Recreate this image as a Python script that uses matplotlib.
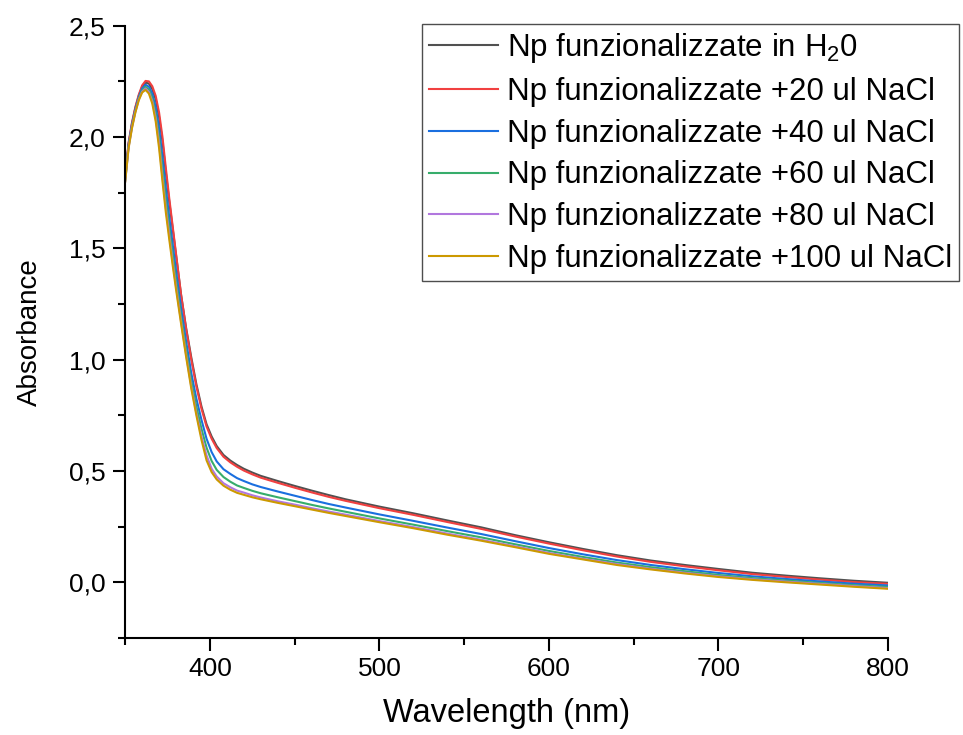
import matplotlib
matplotlib.use("Agg")
import matplotlib.pyplot as plt
from matplotlib.ticker import MultipleLocator, FuncFormatter

plt.rcParams['font.family'] = ['Liberation Sans', 'DejaVu Sans']
plt.rcParams['mathtext.fontset'] = 'custom'
plt.rcParams['mathtext.rm'] = 'Liberation Sans'
plt.rcParams['mathtext.it'] = 'Liberation Sans:italic'

wavelength = [350, 352, 354, 356, 358, 360, 362, 364, 366, 368, 370, 372, 374, 376, 378,
              380, 383, 386, 389, 392, 395, 398, 401, 404, 408, 412, 416, 420, 425, 430,
              440, 450, 460, 470, 480, 500, 520, 540, 560, 580, 600, 620, 640, 660, 680,
              700, 720, 740, 760, 780, 800]

abs_h2o = [1.82, 1.97, 2.06, 2.13, 2.185, 2.225, 2.245, 2.24, 2.215, 2.17, 2.09, 1.98, 1.84, 1.71, 1.59,
           1.47, 1.29, 1.14, 1.01, 0.89, 0.79, 0.71, 0.655, 0.612, 0.572, 0.547, 0.527, 0.51, 0.493, 0.478,
           0.455, 0.433, 0.412, 0.392, 0.373, 0.34, 0.31, 0.278, 0.247, 0.212, 0.18, 0.15, 0.122, 0.098, 0.078,
           0.06, 0.043, 0.03, 0.018, 0.007, -0.002]

abs_20 = [1.82, 1.975, 2.065, 2.135, 2.19, 2.232, 2.252, 2.25, 2.228, 2.185, 2.11, 2.0, 1.86, 1.725, 1.6,
          1.475, 1.29, 1.135, 1.0, 0.88, 0.78, 0.70, 0.645, 0.603, 0.564, 0.539, 0.519, 0.502, 0.485, 0.47,
          0.447, 0.425, 0.404, 0.384, 0.366, 0.333, 0.303, 0.271, 0.24, 0.206, 0.174, 0.144, 0.116, 0.092, 0.072,
          0.054, 0.037, 0.024, 0.012, 0.001, -0.007]

abs_40 = [1.81, 1.965, 2.055, 2.125, 2.18, 2.218, 2.235, 2.226, 2.195, 2.135, 2.04, 1.91, 1.77, 1.64, 1.52,
          1.40, 1.23, 1.08, 0.94, 0.825, 0.73, 0.645, 0.585, 0.543, 0.508, 0.487, 0.468, 0.455, 0.44, 0.428,
          0.408, 0.389, 0.37, 0.352, 0.336, 0.305, 0.276, 0.246, 0.217, 0.185, 0.154, 0.126, 0.1, 0.078, 0.059,
          0.042, 0.027, 0.015, 0.004, -0.006, -0.014]

abs_60 = [1.805, 1.958, 2.048, 2.118, 2.173, 2.21, 2.226, 2.213, 2.175, 2.105, 2.0, 1.86, 1.72, 1.595, 1.475,
          1.36, 1.195, 1.045, 0.905, 0.79, 0.69, 0.605, 0.545, 0.505, 0.473, 0.452, 0.435, 0.424, 0.411, 0.4,
          0.382, 0.365, 0.348, 0.332, 0.317, 0.287, 0.259, 0.23, 0.202, 0.171, 0.141, 0.114, 0.089, 0.068, 0.05,
          0.033, 0.019, 0.008, -0.003, -0.013, -0.021]

abs_80 = [1.80, 1.953, 2.043, 2.113, 2.168, 2.204, 2.218, 2.202, 2.16, 2.085, 1.97, 1.82, 1.68, 1.56, 1.44,
          1.33, 1.17, 1.02, 0.88, 0.76, 0.655, 0.57, 0.51, 0.475, 0.445, 0.427, 0.412, 0.403, 0.391, 0.381,
          0.364, 0.349, 0.333, 0.318, 0.304, 0.275, 0.248, 0.219, 0.191, 0.162, 0.132, 0.106, 0.082, 0.061, 0.043,
          0.027, 0.014, 0.003, -0.007, -0.017, -0.026]

abs_100 = [1.80, 1.95, 2.04, 2.11, 2.165, 2.2, 2.212, 2.195, 2.15, 2.07, 1.95, 1.80, 1.66, 1.54, 1.425,
           1.315, 1.16, 1.01, 0.87, 0.75, 0.64, 0.548, 0.495, 0.462, 0.434, 0.416, 0.402, 0.393, 0.382, 0.373,
           0.357, 0.342, 0.327, 0.312, 0.298, 0.27, 0.243, 0.214, 0.187, 0.158, 0.128, 0.103, 0.078, 0.058, 0.04,
           0.024, 0.011, 0.0, -0.01, -0.02, -0.029]

labels = [r'Np funzionalizzate in H$_{\mathregular{2}}$0',
          'Np funzionalizzate +20 ul NaCl',
          'Np funzionalizzate +40 ul NaCl',
          'Np funzionalizzate +60 ul NaCl',
          'Np funzionalizzate +80 ul NaCl',
          'Np funzionalizzate +100 ul NaCl']
colors = ['#515151', '#F14040', '#1A6FDF', '#37AD6B', '#B177DE', '#CC9900']


def comma(v, pos):
    return f"{v:.1f}".replace('.', ',')


def main():
    fig = plt.figure(figsize=(9.63, 7.35), dpi=100)
    ax = fig.add_axes([0.130, 0.132, 0.792, 0.833])

    series = [abs_h2o, abs_20, abs_40, abs_60, abs_80, abs_100]
    for ys, lab, col in zip(series, labels, colors):
        ax.plot(wavelength, ys, color=col, lw=1.5, label=lab)

    ax.set_xlim(350, 800)
    ax.set_ylim(-0.25, 2.5)
    ax.xaxis.set_major_locator(MultipleLocator(100))
    ax.xaxis.set_minor_locator(MultipleLocator(50))
    ax.yaxis.set_major_locator(MultipleLocator(0.5))
    ax.yaxis.set_minor_locator(MultipleLocator(0.25))
    ax.yaxis.set_major_formatter(FuncFormatter(comma))

    for s in ['top', 'right']:
        ax.spines[s].set_visible(False)
    for s in ['left', 'bottom']:
        ax.spines[s].set_linewidth(1.5)
    ax.tick_params(which='major', direction='out', length=9, width=1.5, labelsize=19, pad=5)
    ax.tick_params(which='minor', direction='out', length=5, width=1.5)

    ax.set_xlabel('Wavelength (nm)', fontsize=23.5, labelpad=12)
    ax.set_ylabel('Absorbance', fontsize=20, labelpad=19)

    leg = ax.legend(loc='upper left', bbox_to_anchor=(422 / 963, 1 - 24 / 735),
                    bbox_transform=fig.transFigure, fontsize=22.5, frameon=True,
                    fancybox=False, borderaxespad=0, borderpad=0.22, labelspacing=0.38,
                    handlelength=2.2, handletextpad=0.3)
    leg.get_frame().set_edgecolor('#222222')
    leg.get_frame().set_linewidth(1.0)

    fig.savefig('out.png', dpi=100)


if __name__ == '__main__':
    main()
